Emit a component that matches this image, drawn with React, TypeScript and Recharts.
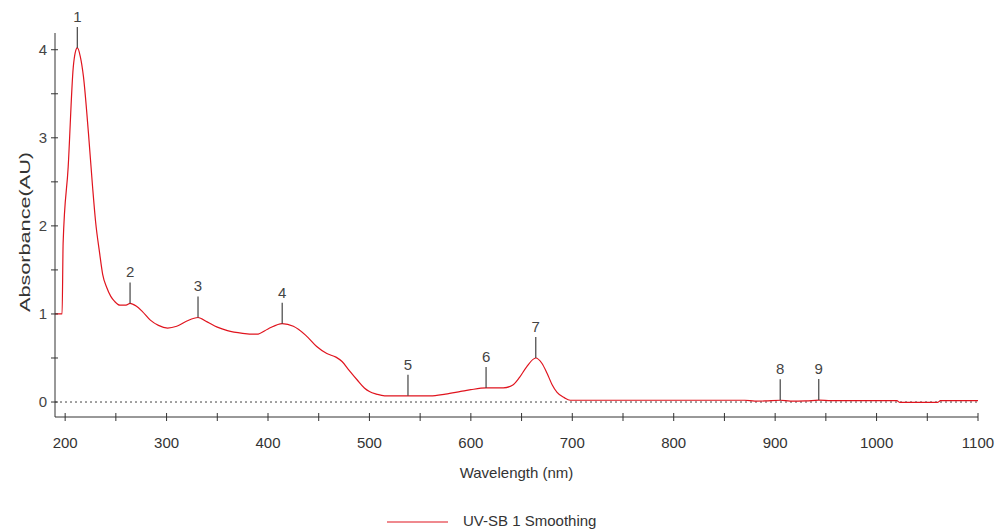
import React from 'react';
import { ComposedChart, Line, Scatter, XAxis, YAxis, ReferenceLine, Legend } from 'recharts';

// spectrum
const wavelengths = [
  190, 197, 198, 203, 208, 210, 212, 215, 218, 223, 227, 230, 234, 237, 241, 245, 249, 254, 260, 264,
  270, 276, 284, 292, 301, 310, 320, 331, 340, 350, 360, 375, 389, 400, 414, 425, 437, 448, 458, 467,
  473, 480, 488, 495, 500, 507, 515, 538, 560, 575, 590, 600, 615, 632, 641, 648, 655, 664, 670, 675,
  680, 685, 692, 698, 750, 800, 870, 880, 890, 905, 915, 930, 943, 955, 1020, 1023, 1060, 1063, 1100,
];
const absorbance = [
  1.0, 1.0, 1.8, 2.67, 3.8, 3.97, 4.02, 3.92, 3.7, 3.05, 2.45, 2.05, 1.69, 1.45, 1.3, 1.2, 1.14, 1.1, 1.1, 1.12,
  1.09, 1.03, 0.93, 0.87, 0.84, 0.86, 0.92, 0.96, 0.91, 0.85, 0.81, 0.78, 0.77, 0.83, 0.89, 0.86, 0.76, 0.63, 0.55, 0.51,
  0.46, 0.36, 0.25, 0.16, 0.12, 0.09, 0.07, 0.07, 0.07, 0.09, 0.12, 0.14, 0.16, 0.16, 0.19, 0.28, 0.4, 0.5, 0.44, 0.33,
  0.2, 0.11, 0.05, 0.02, 0.02, 0.02, 0.02, 0.01, 0.012, 0.02, 0.01, 0.012, 0.022, 0.015, 0.015, -0.005, -0.005, 0.015, 0.015,
];

// marked peaks
const peakLabels = ['1', '2', '3', '4', '5', '6', '7', '8', '9'];
const peakWavelengths = [212, 264, 331, 414, 538, 615, 664, 905, 943];
const peakValues = [4.02, 1.12, 0.96, 0.89, 0.07, 0.16, 0.5, 0.02, 0.022];

const xTicks = [200, 250, 300, 350, 400, 450, 500, 550, 600, 650, 700, 750, 800, 850, 900, 950, 1000, 1050, 1100];
const yTicks = [0, 0.5, 1, 1.5, 2, 2.5, 3, 3.5, 4];

const spectrum = wavelengths.map((x, i) => ({ x, y: absorbance[i] }));
const peaks = peakWavelengths.map((x, i) => ({ x, y: peakValues[i], label: peakLabels[i] }));

const FONT = '"Liberation Sans", Arial, sans-serif';

const XTick = (props: any) => {
  const { x, y, payload } = props;
  const v = payload.value;
  return (
    <g>
      <line x1={x} x2={x} y1={y - 4} y2={y + 4} stroke="#333" />
      {v % 100 === 0 && (
        <text x={x} y={y + 31} textAnchor="middle" fontSize={15} fill="#333" fontFamily={FONT}>
          {v}
        </text>
      )}
    </g>
  );
};

const YTick = (props: any) => {
  const { x, y, payload } = props;
  const v = payload.value;
  return (
    <g>
      <line x1={x - 4} x2={x + 3} y1={y} y2={y} stroke="#333" />
      {Number.isInteger(v) && (
        <text x={x - 8} y={y} dy="0.36em" textAnchor="end" fontSize={15} fill="#444" fontFamily={FONT}>
          {v}
        </text>
      )}
    </g>
  );
};

const PeakMark = (props: any) => {
  const { cx, cy, payload } = props;
  return (
    <g>
      <line x1={cx} x2={cx} y1={cy} y2={cy - 21} stroke="#444" strokeWidth={1.2} />
      <text x={cx} y={cy - 26} textAnchor="middle" fontSize={15} fill="#444" fontFamily={FONT}>
        {payload.label}
      </text>
    </g>
  );
};

const YLabel = () => (
  <text
    x={24}
    y={232}
    transform="rotate(-90 24 232)"
    textAnchor="middle"
    dominantBaseline="central"
    fontSize={15}
    fill="#333"
    fontFamily={FONT}
    textLength={160}
    lengthAdjust="spacingAndGlyphs"
  >
    Absorbance(AU)
  </text>
);

const LegendBox = () => (
  <svg width={995} height={38} style={{ display: 'block' }}>
    <line x1={387} x2={448} y1={30} y2={30} stroke="#e0141e" strokeWidth={1.2} />
    <text x={463} y={34} fontSize={15} fill="#333" fontFamily={FONT}>
      UV-SB 1 Smoothing
    </text>
  </svg>
);

export default function App() {
  return (
    <div style={{ position: 'absolute', left: 0, top: 0, background: '#fff' }}>
      <ComposedChart width={995} height={530} margin={{ top: 33, right: 17, left: 0, bottom: 0 }}>
        <XAxis
          dataKey="x"
          type="number"
          domain={[190, 1100]}
          ticks={xTicks}
          interval={0}
          tick={<XTick />}
          tickLine={false}
          tickSize={0}
          tickMargin={0}
          height={75}
          stroke="#333"
          label={{ value: 'Wavelength (nm)', position: 'insideBottom', offset: 14, fontSize: 15, fill: '#333', fontFamily: FONT }}
        />
        <YAxis
          type="number"
          domain={[-0.17, 4.19]}
          ticks={yTicks}
          interval={0}
          tick={<YTick />}
          tickLine={false}
          tickSize={0}
          tickMargin={0}
          width={55}
          stroke="#333"
          label={<YLabel />}
        />
        <ReferenceLine y={0} stroke="#444" strokeDasharray="2 3" />
        <Line
          data={spectrum}
          dataKey="y"
          type="monotone"
          stroke="#e0141e"
          strokeWidth={1.2}
          dot={false}
          isAnimationActive={false}
        />
        <Scatter data={peaks} dataKey="y" shape={<PeakMark />} isAnimationActive={false} />
        <Legend verticalAlign="bottom" content={<LegendBox />} wrapperStyle={{ left: 0, bottom: 0, width: 995, height: 38 }} />
      </ComposedChart>
    </div>
  );
}
